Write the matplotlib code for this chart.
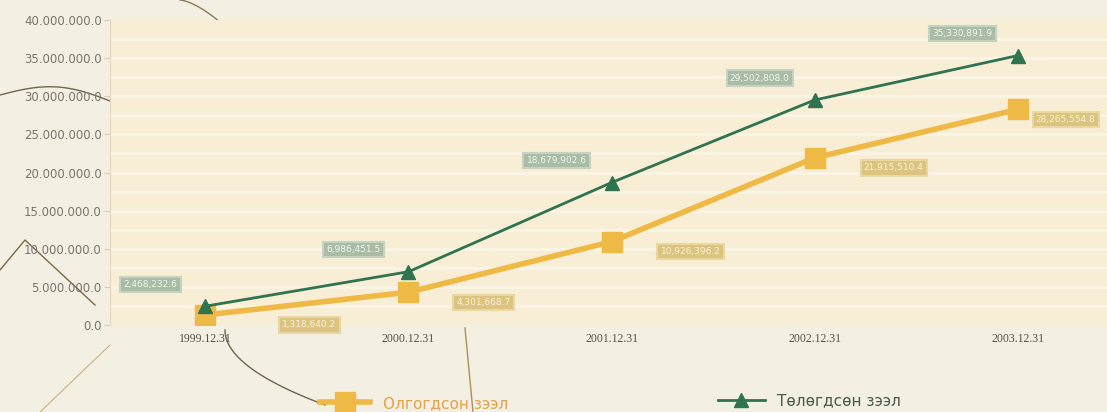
import matplotlib.pyplot as plt
from matplotlib.ticker import FuncFormatter
import numpy as np

# loan portfolio, end of year
dates = ["1999.12.31", "2000.12.31", "2001.12.31", "2002.12.31", "2003.12.31"]
issued = [1318640.2, 4301668.7, 10926396.2, 21915510.4, 28265554.8]
repaid = [2468232.6, 6986451.5, 18679902.6, 29502808.0, 35330891.9]
issued_name = "Олгогдсон зээл"
repaid_name = "Төлөгдсөн зээл"

PAPER = "#f3efe3"
PANEL = "#f8eed5"
GREEN = "#2f7350"
YELLOW = "#efb946"


def dotted(v, pos=None):
    # 40000000 -> 40.000.000.0
    return f"{v:,.1f}".replace(",", ".")


def commas(v):
    return f"{v:,.1f}"


def graph():
    fig = plt.figure(figsize=(11.07, 4.12), dpi=100)
    fig.patch.set_facecolor(PAPER)

    # decorative page strokes behind the chart
    deco = fig.add_axes([0, 0, 1, 1], zorder=0)
    deco.set_xlim(0, 1107)
    deco.set_ylim(412, 0)
    deco.axis("off")
    t = np.linspace(0, 1, 60)
    deco.plot(180 + 40 * t, 0 + 22 * t**1.5, color="#8a7a5a", lw=1)
    deco.plot(0 + 115 * t, 95 - 12 * np.sin(np.pi * t) + 8 * t, color="#6f6650", lw=1)
    deco.plot([0, 25, 95], [270, 240, 305], color="#7a6a4a", lw=1)
    deco.plot(225 + 100 * t**2, 330 + 75 * t, color="#6f6650", lw=1)
    deco.plot(465 + 8 * t, 328 + 84 * t, color="#b08d55", lw=1)
    deco.plot([40, 110], [412, 345], color="#c9b27a", lw=0.8)

    ax = fig.add_axes([110 / 1107, 87 / 412, 1 - 110 / 1107, 305 / 412], zorder=1)
    ax.set_facecolor(PANEL)
    for s in ax.spines.values():
        s.set_visible(False)
    ax.spines["left"].set_visible(True)
    ax.spines["left"].set_color("#e6d9b8")

    x = np.arange(len(dates))
    ax.set_xlim(-0.47, 4.44)
    ax.set_ylim(0, 40_000_000)
    ax.set_yticks(np.arange(0, 40_000_001, 5_000_000))
    ax.yaxis.set_major_formatter(FuncFormatter(dotted))
    ax.tick_params(axis="y", length=4, color="#d8ccae", labelsize=8.5,
                   labelcolor="#7a766f", pad=2)
    ax.set_xticks(x)
    ax.set_xticklabels(dates, fontfamily="Liberation Serif", fontsize=8.5,
                       color="#55524c")
    ax.tick_params(axis="x", length=0, pad=6)

    # pale horizontal stripes across the panel
    for yv in np.arange(2_500_000, 40_000_000, 2_500_000):
        ax.axhline(yv, color="white", lw=2.2, alpha=0.4, zorder=1)

    ax.plot(x, issued, color=YELLOW, lw=4, marker="s", ms=15, zorder=3)
    ax.plot(x, repaid, color=GREEN, lw=2, marker="^", ms=10, zorder=4)

    for xi, v in zip(x, repaid):
        ax.annotate(commas(v), (xi, v), xytext=(-55, 22), textcoords="offset pixels",
                    ha="center", va="center", fontsize=6.5, color="#f4f6ee",
                    bbox=dict(boxstyle="square,pad=0.35", fc="#a8bca6",
                              ec="#c7d3c0", lw=1.5), zorder=5)

    yellow_dx = [104, 75, 79, 79, 48]
    for xi, v, dx in zip(x, issued, yellow_dx):
        ax.annotate(commas(v), (xi, v), xytext=(dx, -10), textcoords="offset pixels",
                    ha="center", va="center", fontsize=6.5, color="#fbf3d8",
                    bbox=dict(boxstyle="square,pad=0.35", fc="#dcc47e",
                              ec="#e8d9a4", lw=1.5), zorder=5, annotation_clip=False)

    # legend along the bottom
    deco.plot([320, 370], [402, 402], color=YELLOW, lw=4, zorder=2)
    deco.plot([345], [402], marker="s", ms=15, color=YELLOW, zorder=3)
    deco.text(383, 404, issued_name, fontsize=11, color="#e2a24e",
              va="center", ha="left")
    deco.plot([718, 765], [400, 400], color=GREEN, lw=2, zorder=2)
    deco.plot([741], [400], marker="^", ms=10, color=GREEN, zorder=3)
    deco.text(777, 401, repaid_name, fontsize=11, color="#4a5a4e",
              va="center", ha="left")

    fig.savefig("out.png", dpi=100, facecolor=fig.get_facecolor())


if __name__ == "__main__":
    graph()
